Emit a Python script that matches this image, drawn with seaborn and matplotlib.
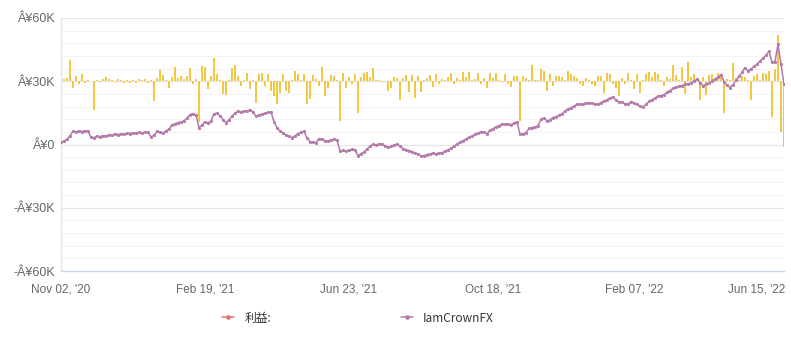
import numpy as np
import pandas as pd
import matplotlib
matplotlib.use("Agg")
import matplotlib.pyplot as plt
import matplotlib.transforms as mtrans
from matplotlib.lines import Line2D
import seaborn as sns

# ---------------- data ----------------
# cumulative equity of IamCrownFX (thousand yen)
equity_k = [
    1.0, 1.6, 2.4, 4.2, 6.3, 6.0, 6.4, 6.1, 6.6, 6.2,
    3.4, 3.3, 3.9, 3.7, 4.2, 4.1, 4.6, 4.4, 4.9, 4.7,
    5.1, 4.9, 5.3, 5.2, 5.5, 5.3, 5.7, 5.5, 5.9, 5.7,
    3.6, 4.4, 6.2, 5.9, 5.5, 6.4, 7.3, 9.3, 9.8, 10.4,
    10.6, 11.3, 12.4, 14.2, 14.7, 13.9, 8.0, 9.2, 10.8, 10.2,
    11.0, 14.6, 14.8, 13.6, 11.8, 10.4, 11.6, 13.4, 14.9, 15.8,
    15.4, 16.0, 15.7, 16.6, 15.2, 13.4, 14.0, 14.4, 14.8, 15.3,
    15.4, 10.8, 8.0, 6.4, 5.6, 4.3, 3.9, 3.3, 4.1, 5.2,
    5.7, 6.2, 3.0, 1.4, 1.1, 0.9, 2.8, 2.6, 1.8, 1.5,
    2.3, 2.5, 2.0, -3.1, -2.8, -3.2, -2.7, -2.3, -2.6, -5.4,
    -4.3, -3.6, -2.2, -0.9, 0.1, -0.3, 0.4, 0.2, -0.6, -1.4,
    -0.9, -0.2, 0.1, -0.8, -1.9, -2.5, -2.9, -3.4, -4.1, -4.6,
    -5.4, -5.3, -4.8, -4.4, -4.2, -4.5, -4.0, -3.9, -3.2, -2.6,
    -1.8, -0.9, 0.2, 1.1, 1.8, 2.6, 3.4, 4.0, 4.8, 5.4,
    6.1, 6.0, 5.1, 6.7, 7.5, 8.4, 8.9, 9.7, 9.5, 9.9,
    9.3, 10.2, 10.8, 4.8, 5.2, 5.6, 7.6, 8.0, 8.3, 8.9,
    12.0, 12.5, 11.2, 11.6, 12.8, 13.2, 13.9, 14.6, 15.9, 16.8,
    17.4, 18.2, 19.0, 19.3, 19.1, 19.8, 19.6, 19.5, 19.2, 19.1,
    19.9, 20.6, 21.2, 22.0, 22.5, 21.0, 20.2, 20.0, 19.4, 19.2,
    20.3, 19.6, 19.0, 18.2, 17.8, 19.0, 20.4, 21.2, 22.0, 23.0,
    23.2, 23.6, 24.8, 25.6, 26.6, 27.4, 27.6, 27.9, 28.6, 28.8,
    29.2, 30.0, 31.0, 29.4, 27.8, 28.6, 29.2, 30.1, 31.0, 32.0,
    33.2, 29.8, 28.1, 27.0, 28.4, 30.4, 32.3, 34.2, 36.4, 34.9,
    35.8, 37.0, 38.0, 39.5, 41.0, 42.3, 44.2, 39.0, 39.3, 47.5,
    38.0, 28.6,
]

# profit per period (thousand yen), drawn as bars
profit_k = [
    1.4, 1.0, 1.5, 10.0, -3.3, 2.4, -1.4, 3.3, -1.0, 0.5,
    0.0, -13.8, 0.8, -0.5, 1.0, 1.9, 1.0, 0.7, -0.5, 0.9,
    0.6, -1.0, 0.8, -0.8, 0.7, -0.6, 1.0, 0.5, 1.3, -0.7,
    0.6, -9.5, 1.4, 5.2, 2.9, 0.5, -3.3, 1.9, 6.7, 1.5,
    2.4, 1.0, 2.4, 6.2, -1.4, 1.0, -19.5, 7.1, 6.7, -3.8,
    2.4, 11.0, 3.3, 0.6, -6.2, -6.7, 0.8, 6.2, 7.6, 2.4,
    -2.4, 0.7, 3.8, -3.8, 0.5, -10.5, 3.3, 3.8, -2.4, 3.3,
    -4.8, -7.1, -11.0, -5.7, 3.3, -4.8, -5.7, 0.8, 4.8, 3.3,
    0.7, 3.3, -11.0, -8.6, 2.9, 1.2, -2.4, 6.7, -7.1, -3.3,
    2.9, 2.4, 0.5, -19.0, 3.8, -3.3, 2.0, -1.5, 3.3, -15.2,
    2.0, 3.8, 4.3, 2.0, 6.2, 0.5, 0.5, -0.4, 0.3, -4.8,
    -3.3, 1.9, 1.4, -9.0, 1.4, 2.9, -5.2, 2.9, -8.1, 2.4,
    -5.2, 0.5, 1.4, 2.9, -2.9, 3.3, -1.5, 0.9, 0.5, 2.0,
    3.8, -1.5, 1.4, 0.6, 4.3, 2.0, 4.3, 0.5, 0.9, 3.8,
    -1.5, 1.4, -3.3, 3.8, 1.4, 3.8, 0.5, -0.4, 3.3, -1.5,
    -2.9, 2.4, 2.4, -19.0, 2.4, 1.5, 0.5, 7.6, 0.8, 0.8,
    5.7, 4.8, -4.8, 3.3, -2.4, 2.4, 2.4, 1.9, 0.8, 4.8,
    3.3, 2.4, 1.5, -1.5, -2.4, 1.5, 0.8, -1.5, -2.4, 2.4,
    2.4, -5.7, 3.8, 3.3, -1.2, -3.3, -7.1, 1.5, -1.5, 3.8,
    0.6, -3.8, 3.3, -5.7, 0.5, 3.3, 4.3, 1.9, 4.3, 3.3,
    0.7, -2.4, 1.9, 1.0, 7.6, 2.9, 0.7, 6.7, -6.2, 9.0,
    2.0, 3.3, 0.8, -9.0, 2.0, -6.7, 2.9, 3.3, 0.9, 3.8,
    2.4, -15.2, 1.0, 0.5, 8.6, 1.5, 0.6, 2.4, 1.9, 0.8,
    -9.0, 2.4, 3.3, 0.5, 3.8, 3.3, 4.8, -17.1, 5.7, 21.9,
    -24.3, -31.4,
]

x_tick_labels = ["Nov 02, '20", "Feb 19, '21", "Jun 23, '21",
                 "Oct 18, '21", "Feb 07, '22", "Jun 15, '22"]
x_tick_index = [0, 48, 96, 144, 191, 239]

y_ticks = [-60000, -30000, 0, 30000, 60000]
y_tick_labels = ["-Â¥60K", "-Â¥30K", "Â¥0", "Â¥30K", "Â¥60K"]

legend_labels = ["利益:", "IamCrownFX"]

# ---------------- figure ----------------
sns.set_theme(style="white")
plt.rcParams["font.family"] = ["Liberation Sans", "Noto Sans CJK JP", "DejaVu Sans"]

df = pd.DataFrame({
    "i": np.arange(len(equity_k)),
    "equity": np.array(equity_k) * 1000.0,
    "profit": np.array(profit_k),
})

fig = plt.figure(figsize=(7.91, 3.45), dpi=100)
ax = fig.add_axes([61 / 791, 1 - 271 / 345, (784 - 61) / 791, (271 - 18) / 345])
ax2 = ax.twinx()

bar_color = "#f3c744"
line_color = "#b47aa9"

# bars on secondary axis, zero aligned with the 30K level of the primary axis
sns.barplot(data=df, x="i", y="profit", ax=ax2, color=bar_color,
            width=0.36, native_scale=True, errorbar=None, saturation=1,
            linewidth=0)
for p in ax2.patches:
    p.set_snap(True)
ax2.set_ylim(-90, 30)
ax2.set_ylabel("")
ax2.set_xlabel("")
for s in ax2.spines.values():
    s.set_visible(False)

sns.lineplot(data=df, x="i", y="equity", ax=ax, color=line_color,
             linewidth=1.1, marker="o", markersize=2.3,
             markeredgewidth=0, zorder=5)

ax.set_zorder(ax2.get_zorder() + 1)
ax.patch.set_visible(False)
ax2.patch.set_facecolor("white")

ax.set_ylim(-60000, 60000)
ax.set_xlim(0, len(equity_k) - 1)
ax2.set_xlim(0, len(equity_k) - 1)

ax.set_yticks(y_ticks)
ax.set_yticklabels(y_tick_labels)
ax.set_xticks(x_tick_index)
ax.set_xticklabels(x_tick_labels)
ax.set_xlabel("")
ax.set_ylabel("")

ax.tick_params(axis="y", length=0, pad=4, labelsize=9, labelcolor="#666666")
ax.tick_params(axis="x", length=0, pad=9, labelsize=8.5, labelcolor="#666666")

# grids drawn on the background axis so bars sit above them
ax2.set_yticks(np.arange(-90, 31, 6), minor=True)
ax2.set_yticks(np.arange(-90, 31, 30))
ax2.tick_params(axis="y", which="both", length=0, labelright=False)
ax2.grid(axis="y", which="minor", color="#f4f4f4", linewidth=0.8)
ax2.grid(axis="y", which="major", color="#e6e6e6", linewidth=0.9)
ax2.set_xticks(x_tick_index)
ax2.grid(axis="x", which="major", color="#e6e6e6", linewidth=0.9)
ax2.tick_params(axis="x", labelbottom=False, length=0)
ax2.set_axisbelow(True)
ax.grid(False)

for side in ["top", "right"]:
    ax.spines[side].set_visible(False)
ax.spines["left"].set_color("#e6e6e6")
ax.spines["bottom"].set_color("#ccd6eb")
ax.spines["left"].set_linewidth(1)
ax.spines["bottom"].set_linewidth(1)

# last x label kept inside the figure
xt = ax.get_xticklabels()
xt[-1].set_horizontalalignment("right")
xt[-1].set_transform(xt[-1].get_transform()
                     + mtrans.ScaledTranslation(7 / 100, 0, fig.dpi_scale_trans))

handles = [
    Line2D([0], [0], color="#e0736e", linewidth=1.1, marker="o", markersize=2.3),
    Line2D([0], [0], color=line_color, linewidth=1.1, marker="o", markersize=2.3),
]
leg = fig.legend(handles, legend_labels, loc="center",
                 bbox_to_anchor=(358 / 791, 1 - 318 / 345),
                 ncol=2, frameon=False, fontsize=8.5, handlelength=1.0,
                 handletextpad=0.85, columnspacing=11.0)
for t in leg.get_texts():
    t.set_color("#333333")
    t.set_family(["Noto Sans CJK JP", "Liberation Sans", "DejaVu Sans"])

fig.savefig("out.png", dpi=100)
